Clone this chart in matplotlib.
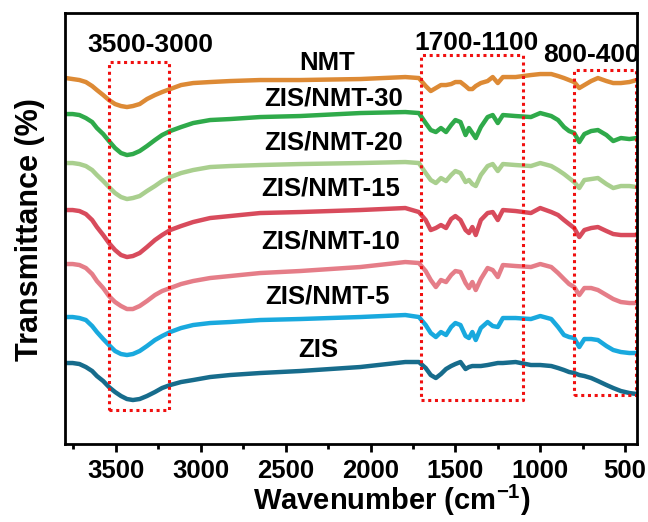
import matplotlib.pyplot as plt
import numpy as np

plt.rcParams["font.family"] = ["Liberation Sans", "DejaVu Sans"]
plt.rcParams["font.weight"] = "bold"

# wavenumber grid (cm-1)
wavenumber = [3795, 3755, 3715, 3677, 3640, 3612, 3575, 3541, 3505, 3470,
              3435, 3400, 3360, 3317, 3270, 3228, 3180, 3116, 3045, 2945,
              2827, 2650, 2415, 2060,
              1795, 1715, 1675, 1645, 1615, 1585, 1555, 1525, 1500, 1470,
              1440, 1420, 1400, 1380, 1350, 1310, 1280, 1250, 1220, 1145,
              1055, 1000, 935, 895, 860, 830, 800, 770, 740, 700,
              660, 610, 570, 525, 475, 432]

# stacked transmittance (a.u., offsets included)
nmt = [366, 365, 364, 362, 358, 354, 349, 344, 340, 338,
       337, 338, 340, 345, 349, 352, 355, 359, 361, 362,
       363, 364, 364, 365,
       367, 366, 358, 353, 356, 359, 359, 360, 362, 362,
       358, 355, 355, 358, 361, 363, 367, 361, 367, 367,
       369, 370, 370, 368, 366, 364, 362, 356, 359, 363,
       366, 363, 361, 361, 362, 364]
zis_nmt_30 = [330, 330, 329, 326, 322, 316, 310, 303, 296, 291,
              289, 290, 293, 298, 304, 309, 313, 317, 321, 324,
              325, 327, 328, 331,
              332, 331, 321, 314, 312, 316, 312, 319, 324, 322,
              309, 316, 311, 306, 317, 327, 329, 321, 329, 328,
              327, 331, 328, 324, 317, 313, 311, 302, 310, 313,
              314, 309, 303, 306, 305, 306]
zis_nmt_20 = [281, 281, 280, 278, 274, 269, 263, 257, 251, 247,
              245, 246, 248, 253, 258, 263, 267, 271, 274, 277,
              278, 279, 280, 281,
              282, 281, 271, 264, 261, 266, 263, 269, 273, 271,
              262, 264, 260, 258, 269, 278, 280, 273, 280, 279,
              278, 281, 278, 274, 270, 266, 262, 256, 264, 265,
              266, 260, 256, 258, 258, 257]
zis_nmt_15 = [234, 234, 233, 230, 224, 217, 209, 201, 194, 189,
              187, 188, 191, 197, 204, 209, 214, 218, 222, 226,
              228, 231, 232, 234,
              236, 232, 224, 214, 216, 219, 216, 225, 228, 224,
              214, 211, 217, 209, 224, 231, 232, 224, 234, 233,
              231, 236, 232, 229, 224, 220, 216, 207, 214, 216,
              217, 213, 210, 209, 209, 209]
zis_nmt_10 = [180, 180, 179, 176, 170, 163, 156, 148, 142, 138,
              135, 135, 138, 143, 149, 153, 156, 160, 163, 166,
              168, 171, 173, 177,
              182, 181, 173, 164, 157, 164, 162, 169, 173, 172,
              161, 156, 162, 154, 165, 176, 174, 167, 179, 178,
              177, 180, 177, 171, 165, 160, 157, 149, 156, 156,
              154, 149, 145, 142, 141, 141]
zis_nmt_5 = [127, 127, 126, 124, 118, 112, 105, 99, 93, 90,
             89, 90, 93, 98, 104, 108, 112, 116, 119, 121,
             122, 124, 125, 127,
             129, 127, 119, 111, 107, 112, 109, 117, 121, 119,
             108, 106, 112, 104, 116, 122, 118, 117, 126, 126,
             125, 128, 125, 117, 109, 107, 106, 97, 105, 105,
             104, 98, 94, 92, 91, 91]
zis = [81, 81, 80, 77, 73, 68, 63, 57, 52, 48,
       45, 44, 45, 48, 52, 56, 59, 62, 64, 67,
       69, 71, 73, 77,
       82, 82, 76, 69, 66, 70, 75, 78, 80, 82,
       75, 77, 78, 78, 78, 79, 80, 81, 81, 82,
       79, 79, 78, 76, 74, 72, 71, 69, 68, 66,
       63, 59, 56, 53, 51, 50]

series = [nmt, zis_nmt_30, zis_nmt_20, zis_nmt_15, zis_nmt_10, zis_nmt_5, zis]
names = ["NMT", "ZIS/NMT-30", "ZIS/NMT-20", "ZIS/NMT-15",
         "ZIS/NMT-10", "ZIS/NMT-5", "ZIS"]
colors = ["#DD8A35", "#2FAA4A", "#A9CF8E", "#D84B5C",
          "#E57D88", "#19A9DE", "#176C8C"]
label_x = [2254, 2218, 2218, 2236, 2236, 2254, 2307]
label_y = [381, 346, 302, 256, 203, 148, 94]

# highlighted regions: (high wn, low wn, bottom, top, text, text wn, text y)
regions = [(3540, 3190, 34, 382, "3500-3000", 3299, 399),
           (1705, 1100, 44, 389, "1700-1100", 1374, 401),
           (800, 433, 49, 374, "800-400", 700, 389)]

fig = plt.figure(figsize=(6.48, 5.22), dpi=100)
ax = fig.add_axes([0.1003, 0.1494, 0.8827, 0.8256])

for vals, name, c, lx, ly in zip(series, names, colors, label_x, label_y):
    ax.plot(wavenumber, vals, color=c, lw=3.2, solid_joinstyle="round",
            solid_capstyle="round")
    ax.text(lx, ly, name, ha="center", va="center", fontsize=18.5,
            fontweight="bold")

for hi, lo, b, t, txt, tx, ty in regions:
    ax.plot([hi, lo, lo, hi, hi], [b, b, t, t, b], color="#F01010", lw=2.2,
            ls=(0, (1, 1.2)))
    ax.text(tx, ty, txt, ha="center", va="center", fontsize=19,
            fontweight="bold")

ax.set_xlim(3800, 430)
ax.set_ylim(0, 431)
ax.set_xticks([3500, 3000, 2500, 2000, 1500, 1000, 500])
ax.set_xticks(np.arange(3750, 400, -500), minor=True)
ax.set_yticks([])
ax.tick_params(axis="x", which="major", direction="out", length=6, width=2,
               labelsize=18.5, pad=5)
ax.tick_params(axis="x", which="minor", direction="out", length=3.5, width=2)
for lab in ax.get_xticklabels():
    lab.set_fontweight("bold")
for s in ax.spines.values():
    s.set_linewidth(2)

fig.text(30 / 648, 1 - 230 / 522, "Transmittance (%)", rotation=90,
         ha="center", va="center", fontsize=22, fontweight="bold")
fig.text(392 / 648, 1 - 500 / 522, r"Wavenumber $\mathregular{(cm^{-1})}$",
         ha="center", va="center", fontsize=21, fontweight="bold")

fig.savefig("out.png", dpi=100)
